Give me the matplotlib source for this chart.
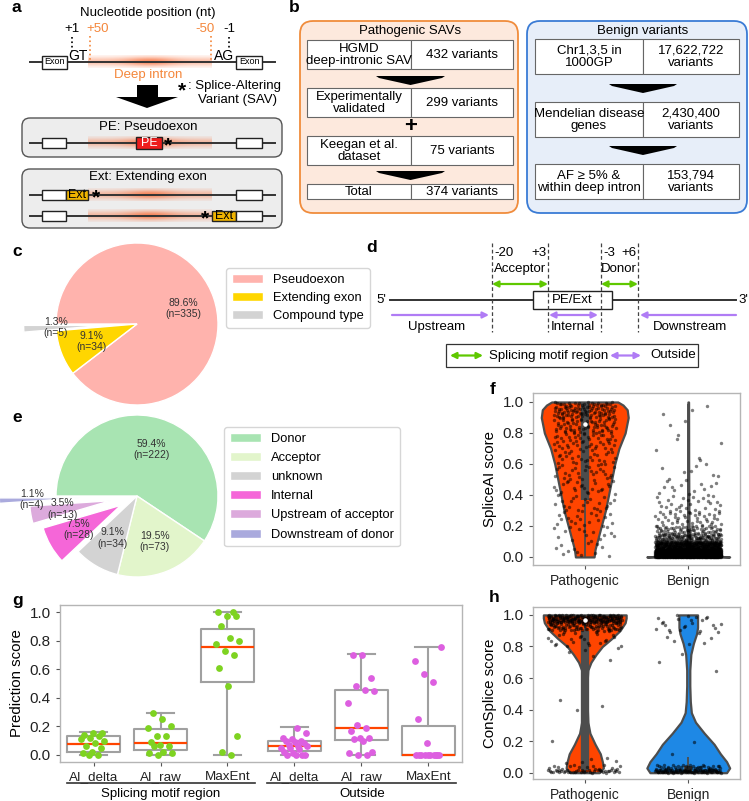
import numpy as np
import matplotlib.pyplot as plt
from matplotlib.patches import Rectangle, FancyBboxPatch, Polygon, FancyArrowPatch

plt.rcParams['font.family'] = ['Liberation Sans', 'DejaVu Sans']

W, H = 749, 801
ORANGE = "#f4863a"
GREEN = "#5fc800"
PURPLE = "#b07cf5"

# ---------------- data ----------------
# c: types of pathogenic SAVs
c_labels = ["Pseudoexon", "Extending exon", "Compound type"]
c_counts = [335, 34, 5]
c_colors = ["#ffb3ad", "#ffd600", "#d3d3d3"]
c_explode = [0, 0, 0.4]

# e: location of SAVs
e_labels = ["Donor", "Acceptor", "unknown", "Internal",
            "Upstream of acceptor", "Downstream of donor"]
e_counts = [222, 73, 34, 28, 13, 4]
e_colors = ["#a8e4b2", "#e2f5cb", "#d3d3d3", "#f566d8", "#dcaadc", "#aaaadd"]
e_explode = [0, 0, 0, 0.23, 0.33, 0.7]

# f: SpliceAI score, violin outline (score, half width) and point counts per score bin
f_groups = ["Pathogenic", "Benign"]
f_path_y = [0.0, 0.05, 0.1, 0.2, 0.3, 0.4, 0.5, 0.6, 0.7, 0.8, 0.9, 0.95, 0.98, 1.0]
f_path_w = [0.09, 0.10, 0.12, 0.16, 0.20, 0.23, 0.26, 0.29, 0.33, 0.39, 0.42, 0.41, 0.37, 0.32]
f_ben_y = [0.0, 0.008, 0.02, 0.05, 0.1, 0.3, 0.6, 1.0]
f_ben_w = [0.40, 0.20, 0.06, 0.02, 0.01, 0.006, 0.004, 0.003]
f_path_edges = [0, 0.1, 0.2, 0.3, 0.4, 0.5, 0.6, 0.7, 0.8, 0.9, 1.0]
f_path_counts = [12, 15, 20, 22, 25, 28, 32, 45, 70, 105]
f_ben_edges = [0, 0.02, 0.05, 0.1, 0.15, 0.2, 0.3, 0.4, 0.5, 0.6, 0.8, 1.0]
f_ben_counts = [700, 450, 350, 120, 60, 45, 25, 14, 8, 6, 5]
f_q1 = [0.37, 0.0]
f_q3 = [1.0, 0.0]
f_med = [0.86, None]
f_lo = [0.0, 0.0]
f_hi = [1.0, 0.99]

# g: prediction scores of SAVs by region
g_cats = ["AI_delta", "AI_raw", "MaxEnt", "AI_delta", "AI_raw", "MaxEnt"]
g_q1 = [0.023, 0.035, 0.513, 0.028, 0.105, 0.0]
g_med = [0.075, 0.082, 0.757, 0.065, 0.187, 0.0]
g_q3 = [0.133, 0.18, 0.88, 0.10, 0.455, 0.205]
g_lo = [0.0, 0.0, 0.0, 0.0, 0.0, 0.0]
g_hi = [0.159, 0.293, 1.0, 0.194, 0.706, 0.757]
g_points = [
    [0.0, 0.0, 0.01, 0.02, 0.05, 0.06, 0.08, 0.10, 0.11, 0.12, 0.13, 0.14, 0.15, 0.15],
    [0.29, 0.25, 0.20, 0.19, 0.13, 0.13, 0.09, 0.07, 0.06, 0.06, 0.02, 0.01, 0.01, 0.0],
    [1.0, 1.0, 0.97, 0.97, 0.90, 0.82, 0.80, 0.78, 0.73, 0.70, 0.61, 0.48, 0.13, 0.02, 0.0],
    [0.19, 0.155, 0.12, 0.11, 0.10, 0.10, 0.09, 0.08, 0.07, 0.06, 0.06, 0.05, 0.05,
     0.04, 0.02, 0.01, 0.0, 0.0, 0.0, 0.0],
    [0.70, 0.70, 0.54, 0.48, 0.455, 0.45, 0.36, 0.21, 0.19, 0.17, 0.12, 0.12, 0.11,
     0.10, 0.02, 0.01, 0.0, 0.0],
    [0.755, 0.66, 0.57, 0.51, 0.25, 0.085, 0, 0, 0, 0, 0, 0, 0, 0, 0, 0],
]
g_group_colors = ["#7ed321", "#7ed321", "#7ed321", "#dd5fe0", "#dd5fe0", "#dd5fe0"]

# h: ConSplice score
h_path_y = [0.0, 0.03, 0.07, 0.12, 0.18, 0.25, 0.32, 0.4, 0.5, 0.6, 0.65, 0.7,
            0.75, 0.8, 0.85, 0.9, 0.95, 0.98, 1.0]
h_path_w = [0.14, 0.18, 0.17, 0.15, 0.10, 0.05, 0.03, 0.025, 0.025, 0.025, 0.03, 0.06,
            0.11, 0.17, 0.26, 0.34, 0.39, 0.40, 0.40]
h_ben_y = [0.0, 0.03, 0.07, 0.12, 0.18, 0.25, 0.32, 0.38, 0.45, 0.55, 0.65, 0.75,
           0.82, 0.88, 0.92, 0.96, 1.0]
h_ben_w = [0.37, 0.40, 0.37, 0.31, 0.25, 0.155, 0.07, 0.03, 0.02, 0.015, 0.015, 0.025,
           0.05, 0.08, 0.09, 0.09, 0.09]
h_path_edges = [0, 0.02, 0.05, 0.1, 0.2, 0.4, 0.45, 0.5, 0.7, 0.8, 0.9, 0.95, 1.0]
h_path_counts = [40, 15, 5, 1, 0, 2, 1, 0, 5, 25, 80, 200]
h_ben_edges = [0, 0.02, 0.05, 0.15, 0.25, 0.55, 0.65, 0.7, 0.8, 0.88, 1.0]
h_ben_counts = [90, 40, 1, 1, 0, 1, 0, 2, 5, 25]
h_q1 = [0.02, 0.0]
h_q3 = [0.90, 0.04]
h_med = [0.97, None]
h_lo = [0.0, 0.0]
h_hi = [1.0, 0.1]


# ---------------- helpers ----------------
def px_axes(x0, y0, x1, y1, **kw):
    return fig.add_axes([x0 / W, 1 - y1 / H, (x1 - x0) / W, (y1 - y0) / H], **kw)


def halton(k, base):
    f, res = 1.0, 0.0
    while k > 0:
        f /= base
        res += f * (k % base)
        k //= base
    return res


def jitter(n, width, start=1):
    return np.array([width * (2 * halton(k, 3) - 1) for k in range(start, start + n)])


def binned_points(edges, counts, width, start=1):
    xs, ys = [], []
    k = start
    for lo, hi, n in zip(edges[:-1], edges[1:], counts):
        for _ in range(n):
            ys.append(lo + (hi - lo) * halton(k, 2))
            xs.append(width * (2 * halton(k, 3) - 1))
            k += 1
    return np.array(xs), np.array(ys)


def style_axes(ax):
    for s in ax.spines.values():
        s.set_color("#b5b5b5")
        s.set_linewidth(1.0)
    ax.tick_params(color="#555555", length=3, labelcolor="#222222")


def violin(ax, x, ys, hw, color):
    ys = np.asarray(ys)
    hw = np.asarray(hw)
    ax.fill_betweenx(ys, x - hw, x + hw, facecolor=color, edgecolor="#4d4d4d",
                     lw=1.6, zorder=1)


def inner_box(ax, x, lo, q1, med, q3, hi):
    ax.vlines(x, lo, hi, color="#4d4d4d", lw=1.3, zorder=2)
    ax.vlines(x, q1, q3, color="#4d4d4d", lw=6, zorder=2)
    if med is not None:
        ax.scatter([x], [med], color="white", s=5, zorder=4)


def violin_axes(ax, ylim, ylabel):
    ax.set_xlim(-0.5, 1.5)
    ax.set_ylim(*ylim)
    ax.set_xticks([0, 1])
    ax.set_xticklabels(f_groups, fontsize=10)
    ticks = np.arange(0, 1.01, 0.2)
    ax.set_yticks(ticks)
    ax.set_yticklabels([f"{v:.1f}" for v in ticks], fontsize=11)
    ax.set_ylabel(ylabel, fontsize=10.8)
    style_axes(ax)


fig = plt.figure(figsize=(W / 100, H / 100), dpi=100)

# ---------------- c: pie ----------------
r = 81.0
axc = px_axes(137 - 135, 324 - 90, 137 + 90, 324 + 90)
tot_c = sum(c_counts)
wedges_c, _, _ = axc.pie(
    c_counts, colors=c_colors, explode=c_explode, startangle=180, counterclock=False,
    radius=1, pctdistance=0.6,
    autopct=lambda p: f"{p:.1f}%\n(n={round(p * tot_c / 100)})",
    wedgeprops=dict(edgecolor="white", linewidth=1.0),
    textprops=dict(fontsize=7.5, color="#333333"))
axc.set_xlim(-135 / r, 90 / r)
axc.set_ylim(-90 / r, 90 / r)
for w in wedges_c:
    w.set_clip_on(False)
fig.legend(wedges_c, c_labels, loc="upper left", bbox_to_anchor=(226 / W, 1 - 268 / H),
           borderaxespad=0, fontsize=9.3, handlelength=2.4, handleheight=0.7,
           handletextpad=0.8, labelspacing=0.46, borderpad=0.45, edgecolor="#cccccc")

# ---------------- e: pie ----------------
axe = px_axes(137 - 135, 496 - 90, 137 + 90, 496 + 90)
tot_e = sum(e_counts)
wedges_e, _, _ = axe.pie(
    e_counts, colors=e_colors, explode=e_explode, startangle=180, counterclock=False,
    radius=1, pctdistance=0.6,
    autopct=lambda p: f"{p:.1f}%\n(n={round(p * tot_e / 100)})",
    wedgeprops=dict(edgecolor="white", linewidth=1.0),
    textprops=dict(fontsize=7.5, color="#333333"))
axe.set_xlim(-135 / r, 90 / r)
axe.set_ylim(-90 / r, 90 / r)
for w in wedges_e:
    w.set_clip_on(False)
fig.legend(wedges_e, e_labels, loc="upper left", bbox_to_anchor=(224 / W, 1 - 427 / H),
           borderaxespad=0, fontsize=9.3, handlelength=2.4, handleheight=0.7,
           handletextpad=0.8, labelspacing=0.55, borderpad=0.45, edgecolor="#cccccc")

# ---------------- f: SpliceAI violins ----------------
axf = px_axes(533, 393, 740, 565)
violin(axf, 0, f_path_y, f_path_w, "#ff4500")
violin(axf, 1, f_ben_y, f_ben_w, "#1e88e5")
for i in range(2):
    inner_box(axf, i, f_lo[i], f_q1[i], f_med[i], f_q3[i], f_hi[i])
xp, yp = binned_points(f_path_edges, f_path_counts, 0.30)
axf.scatter(xp, yp, s=6, color="black", alpha=0.5, lw=0, zorder=3)
xb, yb = binned_points(f_ben_edges, f_ben_counts, 0.32, start=7)
axf.scatter(1 + xb, yb, s=6, color="black", alpha=0.5, lw=0, zorder=3)
violin_axes(axf, (-0.052, 1.058), "SpliceAI score")

# ---------------- h: ConSplice violins ----------------
axh = px_axes(533, 607, 740, 779)
violin(axh, 0, h_path_y, h_path_w, "#ff4500")
violin(axh, 1, h_ben_y, h_ben_w, "#1e88e5")
for i in range(2):
    inner_box(axh, i, h_lo[i], h_q1[i], h_med[i], h_q3[i], h_hi[i])
xp, yp = binned_points(h_path_edges, h_path_counts, 0.36, start=3)
axh.scatter(xp, yp, s=6, color="black", alpha=0.55, lw=0, zorder=3)
xb, yb = binned_points(h_ben_edges, h_ben_counts, 0.32, start=11)
axh.scatter(1 + xb, yb, s=6, color="black", alpha=0.55, lw=0, zorder=3)
violin_axes(axh, (-0.04, 1.05), "ConSplice score")

# ---------------- g: box plots ----------------
axg = px_axes(60, 605, 462, 762)
stats = [dict(med=m, q1=a, q3=b, whislo=lo, whishi=hi, fliers=[])
         for m, a, b, lo, hi in zip(g_med, g_q1, g_q3, g_lo, g_hi)]
axg.bxp(stats, positions=range(6), widths=0.8, capwidths=0.4, showfliers=False,
        boxprops=dict(color="#a0a0a0", lw=1.5),
        whiskerprops=dict(color="#a0a0a0", lw=1.5),
        capprops=dict(color="#a0a0a0", lw=1.5),
        medianprops=dict(color="#ff4500", lw=1.6))
for i, pts in enumerate(g_points):
    axg.scatter(i + jitter(len(pts), 0.2, start=1 + 5 * i), pts, s=24,
                color=g_group_colors[i], lw=0, zorder=3)
axg.set_xlim(-0.5, 5.5)
axg.set_ylim(-0.05, 1.05)
axg.set_xticks(range(6))
axg.set_xticklabels(g_cats, fontsize=9.6)
ticks = np.arange(0, 1.01, 0.2)
axg.set_yticks(ticks)
axg.set_yticklabels([f"{v:.1f}" for v in ticks], fontsize=11)
axg.set_ylabel("Prediction score", fontsize=10.8)
style_axes(axg)

# ---------------- overlay for schematics (pixel coordinates) ----------------
ov = fig.add_axes([0, 0, 1, 1], zorder=5)
ov.set_facecolor("none")
ov.axis("off")

FS = 9.5


def T(x, y, s, fs=FS, **kw):
    kw.setdefault("ha", "center")
    kw.setdefault("va", "center")
    ov.text(x, y, s, fontsize=fs, **kw)


def band(x0, x1, yc, h=13):
    nx, ny = 160, 24
    gx = np.linspace(-1, 1, nx)
    gy = np.linspace(-1, 1, ny)
    a = np.outer(np.exp(-(gy / 0.75) ** 2), 0.5 + 0.5 * np.exp(-(gx / 0.4) ** 2)) * 0.85
    img = np.zeros((ny, nx, 4))
    img[..., 0], img[..., 1], img[..., 2] = 0.98, 0.45, 0.25
    img[..., 3] = a
    ov.imshow(img, extent=(x0, x1, yc + h / 2, yc - h / 2), aspect="auto",
              interpolation="bilinear", zorder=1)


def box(x0, x1, yc, fc="white", text=None, tc="black", fs=6.5, h=10):
    ov.add_patch(Rectangle((x0, yc - h / 2), x1 - x0, h, fc=fc, ec="#222222", lw=1.0, zorder=3))
    if text:
        T((x0 + x1) / 2, yc, text, fs=fs, color=tc, zorder=4)


def star(x, y):
    T(x, y + 3, "*", fs=15, fontweight="bold", zorder=5)


def hline(x0, x1, y):
    ov.plot([x0, x1], [y, y], color="#333333", lw=1.4, zorder=2)


# panel labels
for lab, x, y in [("a", 16, 8), ("b", 294, 8), ("c", 17, 251), ("d", 372, 248),
                  ("e", 17, 418), ("f", 493, 390), ("g", 18, 600), ("h", 494, 597)]:
    T(x, y, lab, fs=12.5, fontweight="bold")

# ---- a ----
T(148, 13, "Nucleotide position (nt)")
T(72, 29, "+1")
T(98, 29, "+50", color=ORANGE)
T(205, 29, "-50", color=ORANGE)
T(229, 29, "-1")
ov.plot([72, 72], [37, 51], ls=":", color="black", lw=1.2)
ov.plot([229, 229], [37, 51], ls=":", color="black", lw=1.2)
ov.plot([90, 90], [36, 60], ls=":", color=ORANGE, lw=1.2)
ov.plot([211, 211], [36, 60], ls=":", color=ORANGE, lw=1.2)
band(88, 212, 62)
hline(30, 275, 62)
box(42, 67, 62, text="Exon", h=13)
box(236, 262, 62, text="Exon", h=13)
T(68, 56, "GT", ha="left", fs=10)
T(234, 56, "AG", ha="right", fs=10)
T(148, 75, "Deep intron", color=ORANGE)
ov.add_patch(Polygon([(137, 85), (158, 85), (158, 97), (178, 97), (147, 108),
                      (116, 97), (137, 97)], fc="black", ec="none"))
star(182, 88)
T(188, 86, ": Splice-Altering", ha="left")
T(198, 100, "Variant (SAV)", ha="left")

ov.add_patch(FancyBboxPatch((22, 118), 260, 39, boxstyle="round,pad=0,rounding_size=8",
                            fc="#ededed", ec="#555555", lw=1.0, zorder=0))
T(148, 127, "PE: Pseudoexon")
band(88, 212, 143)
hline(30, 275, 143)
box(42, 66, 143)
box(236, 262, 143)
box(136, 162, 143, fc="#ee1c1c", text="PE", tc="white", fs=9, h=12)
star(168, 143)

ov.add_patch(FancyBboxPatch((22, 169), 260, 59, boxstyle="round,pad=0,rounding_size=8",
                            fc="#ededed", ec="#555555", lw=1.0, zorder=0))
T(148, 177, "Ext: Extending exon")
band(88, 212, 195)
hline(30, 275, 195)
box(42, 66, 195)
box(66, 88, 195, fc="#f0b400", text="Ext", fs=9)
star(96, 195)
box(236, 262, 195)
band(88, 212, 216)
hline(30, 275, 216)
box(42, 66, 216)
star(205, 216)
box(212, 236, 216, fc="#f0b400", text="Ext", fs=9)
box(236, 262, 216)


# ---- b ----
def table_row(x0, xm, x1, y0, y1, left, right):
    for a, b in [(x0, xm), (xm, x1)]:
        ov.add_patch(Rectangle((a, y0), b - a, y1 - y0, fc="white", ec="#666666", lw=0.8))
    T((x0 + xm) / 2, (y0 + y1) / 2 + 0.5, left, linespacing=1.1)
    T((xm + x1) / 2, (y0 + y1) / 2 + 0.5, right, linespacing=1.1)


def chevron(x0, x1, y0, y1):
    ov.add_patch(Polygon([(x0, y0), (x1, y0), (x1 - 3, y0 + 2), ((x0 + x1) / 2, y1),
                          (x0 + 3, y0 + 2)], fc="black", ec="none"))


ov.add_patch(FancyBboxPatch((300, 21), 218, 192, boxstyle="round,pad=0,rounding_size=13",
                            fc="#fde9dd", ec="#f08c3c", lw=1.3))
T(410, 31, "Pathogenic SAVs")
table_row(307, 411, 513, 40, 69, "HGMD\ndeep-intronic SAV", "432 variants")
chevron(376, 445, 76, 85)
table_row(307, 411, 513, 88, 117, "Experimentally\nvalidated", "299 variants")
T(411, 127, "+", fs=16, fontweight="bold")
table_row(307, 411, 513, 136, 165, "Keegan et al.\ndataset", "75 variants")
chevron(376, 445, 171, 180)
table_row(307, 411, 513, 184, 199, "Total", "374 variants")

ov.add_patch(FancyBboxPatch((527, 21), 220, 192, boxstyle="round,pad=0,rounding_size=13",
                            fc="#e7eef9", ec="#3a7bd5", lw=1.3))
T(643, 31, "Benign variants")
table_row(535, 643, 739, 39, 74, "Chr1,3,5 in\n1000GP", "17,622,722\nvariants")
chevron(609, 677, 84, 93)
table_row(535, 643, 739, 102, 137, "Mendelian disease\ngenes", "2,430,400\nvariants")
chevron(609, 677, 146, 155)
table_row(535, 643, 739, 164, 199, "AF \u2265 5% &\nwithin deep intron", "153,794\nvariants")


# ---- d ----
def arrow(x0, x1, y, color, style):
    ov.add_patch(FancyArrowPatch((x0, y), (x1, y), arrowstyle=style, mutation_scale=9,
                                 color=color, lw=1.6, shrinkA=0, shrinkB=0, zorder=3))


hline(390, 736, 300)
ov.add_patch(Rectangle((533, 291), 79, 18, fc="white", ec="#222222", lw=1.0, zorder=3))
T(572, 300, "PE/Ext", zorder=4)
T(381, 300, "5'")
T(738, 300, "3'", ha="left")
for x in [492, 548, 601, 638]:
    ov.plot([x, x], [243, 332], color="#444444", lw=0.9, ls=(0, (3, 2)), zorder=5)
T(494, 253, "-20", ha="left")
T(546, 253, "+3", ha="right")
T(520, 269, "Acceptor")
T(603, 253, "-3", ha="left")
T(637, 253, "+6", ha="right")
T(619, 269, "Donor")
arrow(492, 548, 284, GREEN, "<|-|>")
arrow(601, 638, 284, GREEN, "<|-|>")
arrow(392, 489, 315, PURPLE, "-|>")
arrow(549, 598, 315, PURPLE, "<|-|>")
arrow(736, 640, 315, PURPLE, "-|>")
T(437, 327, "Upstream")
T(573, 327, "Internal")
T(690, 327, "Downstream")
ov.add_patch(Rectangle((446, 344), 252, 23, fc="white", ec="#333333", lw=0.9))
arrow(450, 483, 355.5, GREEN, "<|-|>")
T(489, 355.5, "Splicing motif region", ha="left")
arrow(610, 641, 355.5, PURPLE, "<|-|>")
T(650, 355.5, "Outside", ha="left")

# ---- g group labels ----
ov.plot([67, 255], [783, 783], color="#333333", lw=1.2)
ov.plot([267, 456], [783, 783], color="#333333", lw=1.2)
T(161, 794, "Splicing motif region")
T(362, 794, "Outside")

ov.set_xlim(0, W)
ov.set_ylim(H, 0)

fig.savefig("out.png", dpi=100)
